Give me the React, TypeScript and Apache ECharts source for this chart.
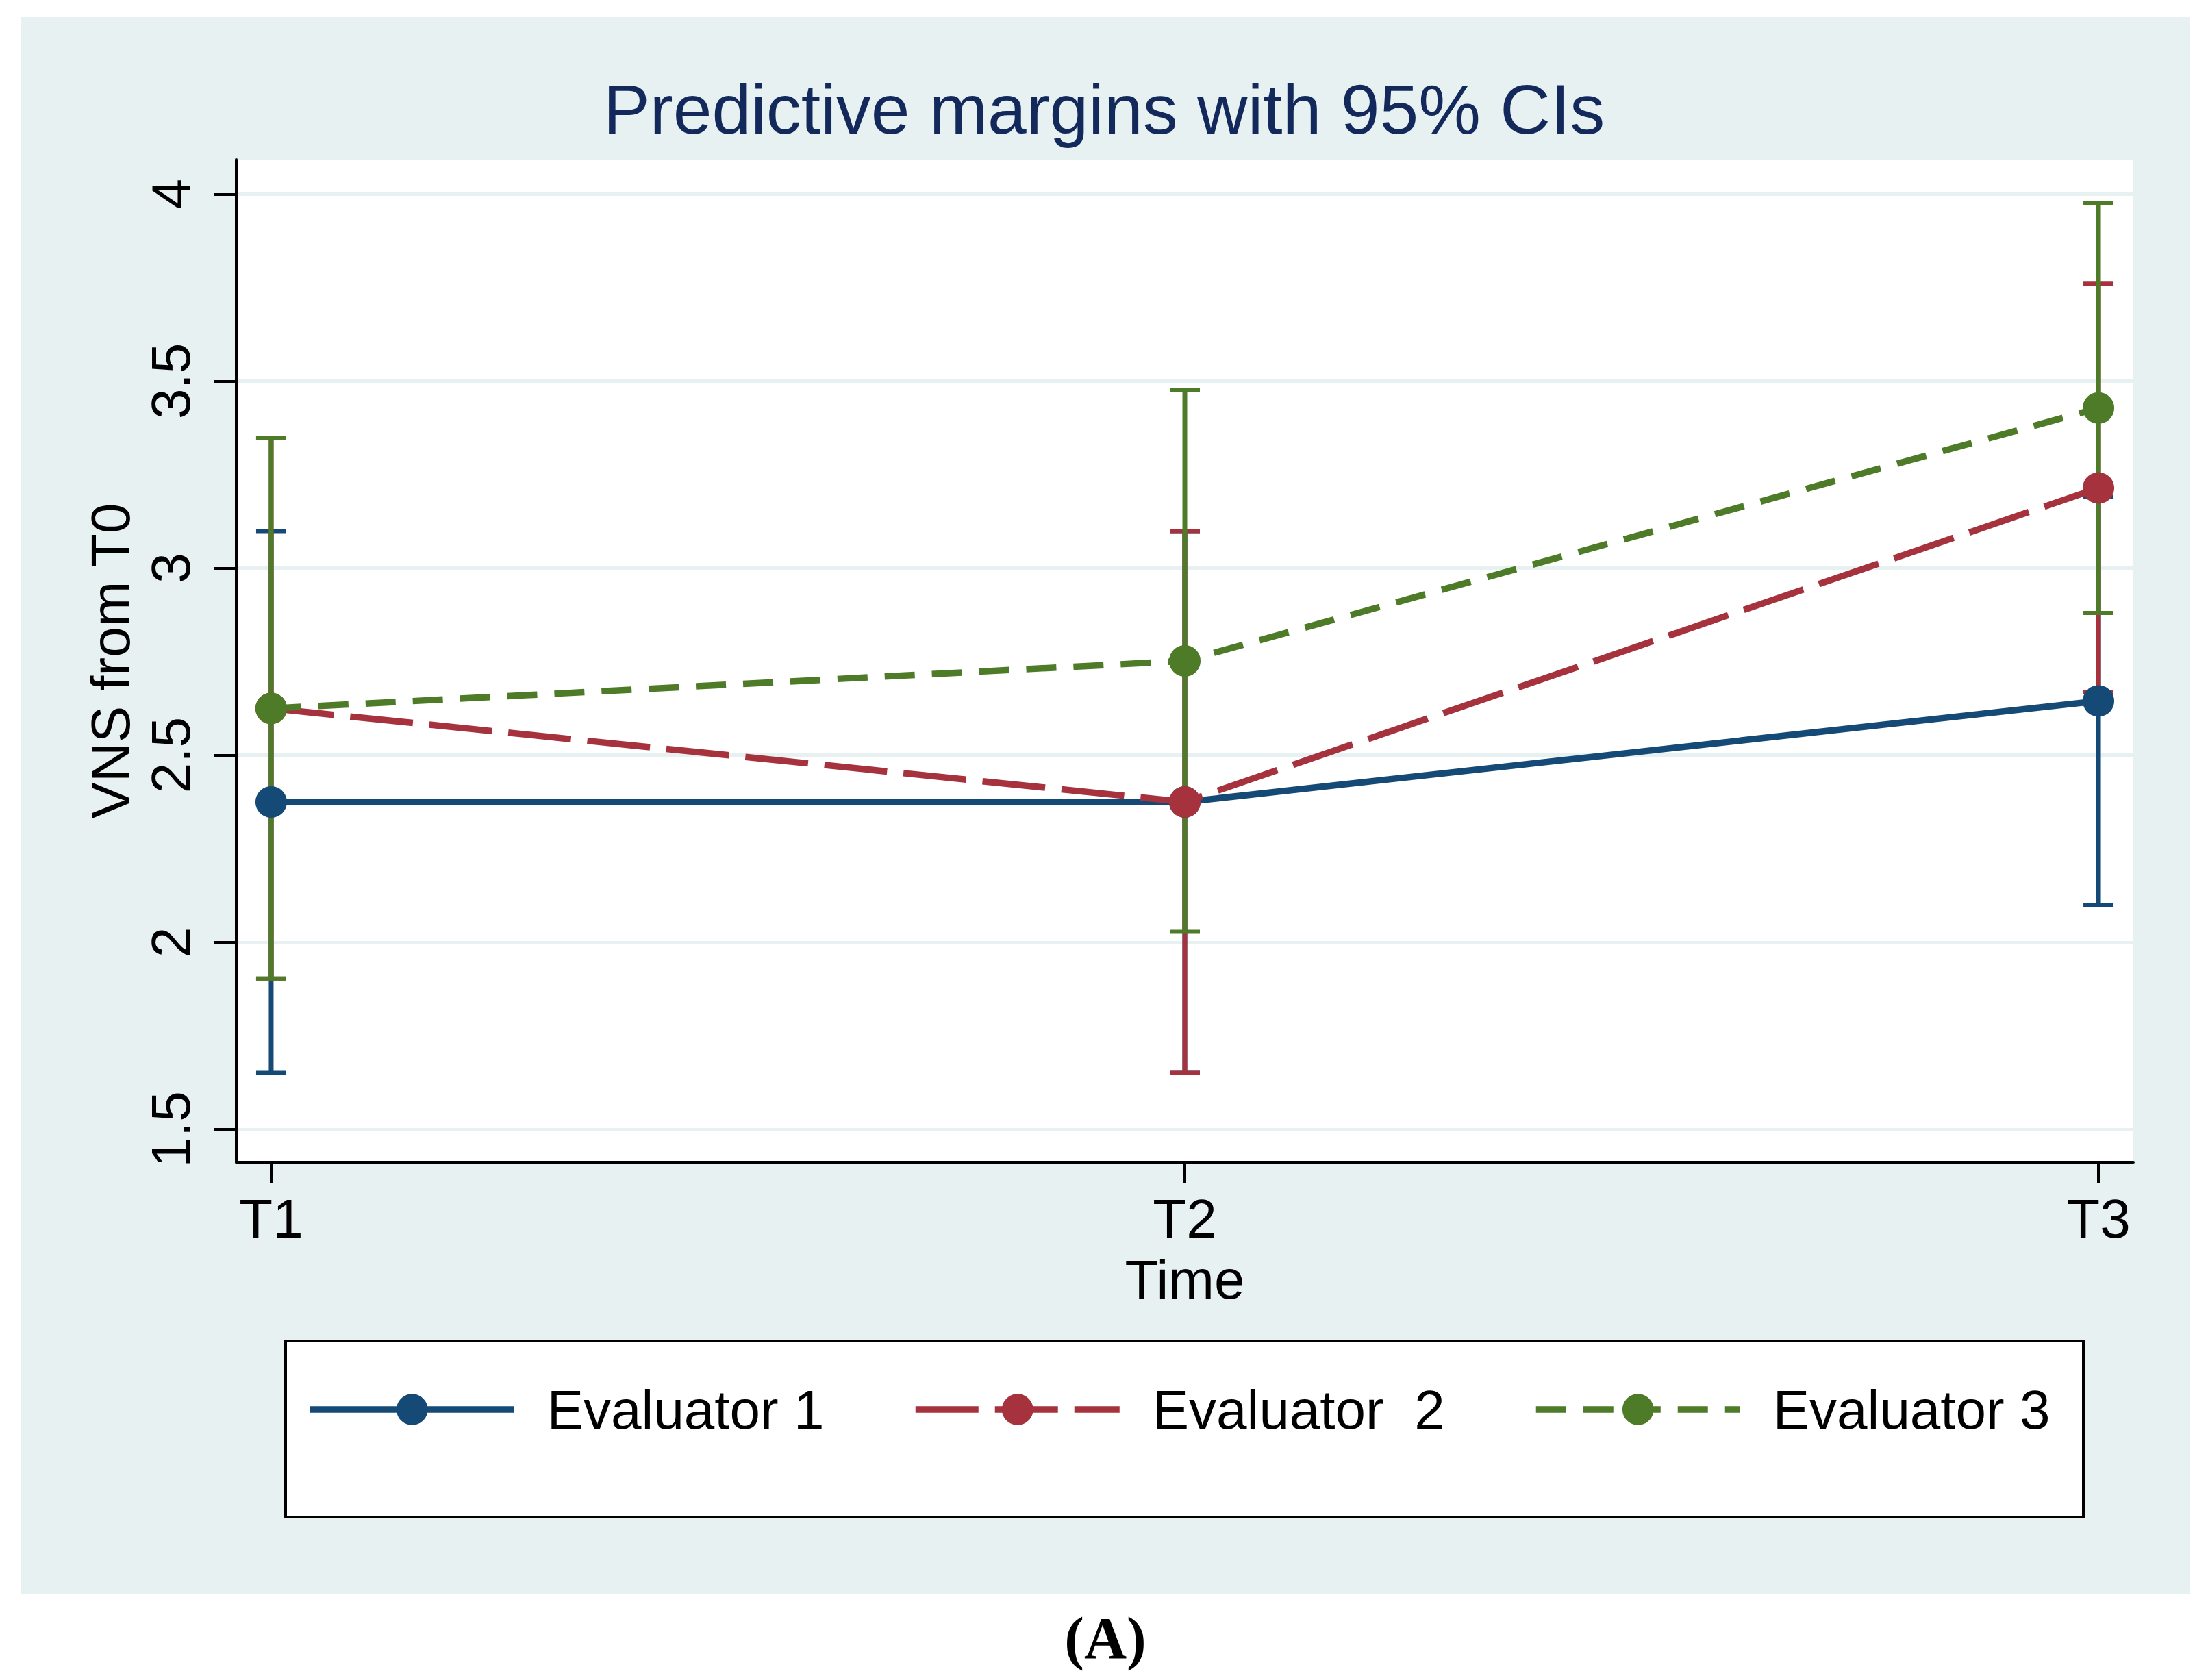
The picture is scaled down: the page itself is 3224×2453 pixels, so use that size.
import React, { useEffect, useRef } from 'react';
import * as echarts from 'echarts';

const W = 3224;
const H = 2453;
const FONT = '"Liberation Sans", Arial, Helvetica, sans-serif';

const categories = ['T1', 'T2', 'T3'];
const yTicks = [1.5, 2, 2.5, 3, 3.5, 4];
const seriesNames = ['Evaluator 1', 'Evaluator  2', 'Evaluator 3'];
const seriesColors = ['#164a76', '#a5323d', '#4e7b27'];

const eval1Mean = [2.375, 2.375, 2.645];
const eval1Low = [1.651, 1.651, 2.1];
const eval1High = [3.099, 3.099, 3.19];

const eval2Mean = [2.625, 2.375, 3.214];
const eval2Low = [1.903, 1.651, 2.668];
const eval2High = [3.347, 3.099, 3.76];

const eval3Mean = [2.625, 2.752, 3.428];
const eval3Low = [1.903, 2.028, 2.88];
const eval3High = [3.347, 3.476, 3.975];

const means = [eval1Mean, eval2Mean, eval3Mean];
const lows = [eval1Low, eval2Low, eval3Low];
const highs = [eval1High, eval2High, eval3High];
const dashTypes: any[] = ['solid', [92, 24], [44, 25]];
const legendLefts = [448, 1332, 2238];

function buildOption() {
  const ciSeries = means.map((_, s) => ({
    type: 'custom',
    name: 'CI ' + (s + 1),
    z: 2 + s * 0.1,
    silent: true,
    data: categories.map((_c, i) => [i + 1, lows[s][i], highs[s][i]]),
    encode: { x: 0, y: [1, 2] },
    renderItem: (_params: any, api: any) => {
      const x = api.value(0);
      const pLo = api.coord([x, api.value(1)]);
      const pHi = api.coord([x, api.value(2)]);
      const hw = 22;
      const color = seriesColors[s];
      return {
        type: 'group',
        children: [
          {
            type: 'line',
            shape: { x1: pLo[0], y1: pLo[1], x2: pHi[0], y2: pHi[1] },
            style: { stroke: color, lineWidth: 7 },
          },
          {
            type: 'line',
            shape: { x1: pLo[0] - hw, y1: pLo[1], x2: pLo[0] + hw, y2: pLo[1] },
            style: { stroke: color, lineWidth: 6 },
          },
          {
            type: 'line',
            shape: { x1: pHi[0] - hw, y1: pHi[1], x2: pHi[0] + hw, y2: pHi[1] },
            style: { stroke: color, lineWidth: 6 },
          },
        ],
      };
    },
  }));

  const lineSeries = means.map((m, s) => ({
    type: 'line',
    name: seriesNames[s],
    z: 3 + s * 0.1,
    data: categories.map((_c, i) => [i + 1, m[i]]),
    symbol: 'circle',
    symbolSize: 46,
    showSymbol: true,
    silent: true,
    lineStyle: { color: seriesColors[s], width: 9.5, type: dashTypes[s] },
    itemStyle: { color: seriesColors[s], borderWidth: 0 },
    emphasis: { disabled: true },
  }));

  return {
    animation: false,
    backgroundColor: '#ffffff',
    title: {
      text: 'Predictive margins with 95% CIs',
      left: 'center',
      top: 109,
      padding: 0,
      textStyle: { fontFamily: FONT, fontSize: 102, fontWeight: 'normal', color: '#13295b' },
    },
    graphic: {
      elements: [
        {
          type: 'rect',
          z: -10,
          silent: true,
          shape: { x: 31, y: 25, width: 3167, height: 2303 },
          style: { fill: '#e7f1f2' },
        },
        {
          type: 'rect',
          z: -5,
          silent: true,
          shape: { x: 417, y: 1958, width: 2625, height: 257 },
          style: { fill: '#ffffff', stroke: '#000000', lineWidth: 4 },
        },
        {
          type: 'text',
          silent: true,
          x: 1614,
          y: 2392,
          style: {
            text: '(A)',
            fontFamily: '"Liberation Serif", "Times New Roman", serif',
            fontWeight: 'bold',
            fontSize: 86,
            fill: '#000000',
            align: 'center',
            verticalAlign: 'middle',
          },
        },
      ],
    },
    legend: seriesNames.map((name, i) => ({
      data: [name],
      left: legendLefts[i],
      top: 2018,
      padding: 0,
      itemGap: 0,
      itemWidth: 298,
      itemHeight: 57,
      selectedMode: false,
      backgroundColor: 'transparent',
      lineStyle: { width: 9.5 },
      itemStyle: { borderWidth: 0 },
      textStyle: { fontFamily: FONT, fontSize: 80, color: '#000000', padding: [0, 0, 0, 43] },
    })),
    grid: {
      left: 345,
      right: 109,
      top: 233,
      bottom: 756,
      show: true,
      backgroundColor: '#ffffff',
      borderWidth: 0,
      containLabel: false,
      outerBoundsMode: 'none',
    },
    xAxis: {
      type: 'value',
      min: 0.9618,
      max: 3.0382,
      name: 'Time',
      nameLocation: 'middle',
      nameGap: 131,
      nameMoveOverlap: false,
      nameTextStyle: { fontFamily: FONT, fontSize: 80, color: '#000000' },
      axisLine: { show: true, onZero: false, lineStyle: { color: '#000000', width: 4 } },
      axisTick: {
        show: true,
        customValues: categories.map((_c, i) => i + 1),
        length: 31,
        lineStyle: { color: '#000000', width: 4 },
      },
      axisLabel: {
        show: true,
        customValues: categories.map((_c, i) => i + 1),
        formatter: (v: number) => categories[Math.round(v) - 1] ?? '',
        margin: 42,
        fontFamily: FONT,
        fontSize: 80,
        color: '#000000',
      },
      splitLine: { show: false },
    },
    yAxis: {
      type: 'value',
      min: 1.412,
      max: 4.092,
      name: 'VNS from T0',
      nameLocation: 'middle',
      nameGap: 144,
      nameMoveOverlap: false,
      nameTextStyle: { fontFamily: FONT, fontSize: 80, color: '#000000' },
      axisLine: { show: true, onZero: false, lineStyle: { color: '#000000', width: 4 } },
      axisTick: {
        show: true,
        customValues: yTicks,
        length: 32,
        lineStyle: { color: '#000000', width: 4 },
      },
      axisLabel: {
        show: true,
        customValues: yTicks,
        rotate: 90,
        margin: 56,
        fontFamily: FONT,
        fontSize: 80,
        color: '#000000',
      },
      splitLine: { show: true, lineStyle: { color: '#e7f1f2', width: 5 } },
    },
    series: [...ciSeries, ...lineSeries],
  };
}

export default function App() {
  const ref = useRef<HTMLDivElement>(null);
  useEffect(() => {
    if (!ref.current) return;
    const chart = echarts.init(ref.current, null, { renderer: 'svg', width: W, height: H });
    chart.setOption(buildOption() as any);
    return () => {
      chart.dispose();
    };
  }, []);
  return (
    <div
      ref={ref}
      style={{ position: 'absolute', left: 0, top: 0, width: W, height: H, overflow: 'hidden' }}
    />
  );
}
